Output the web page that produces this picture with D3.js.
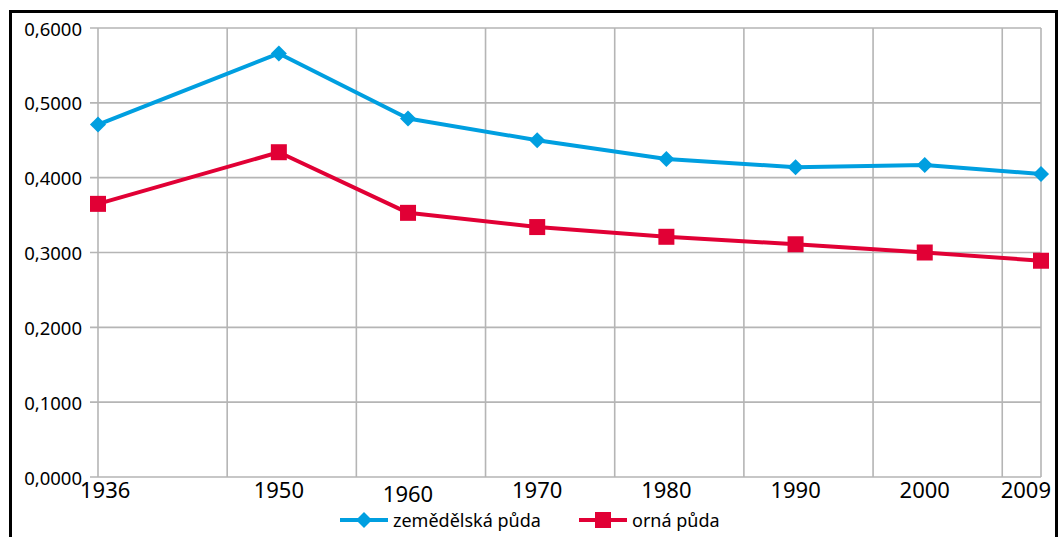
<!DOCTYPE html>
<html>
<head>
<meta charset="utf-8">
<script src="https://cdn.jsdelivr.net/npm/d3@7"></script>
<style>
  html, body { margin: 0; padding: 0; background: #ffffff; }
  svg { display: block; }
</style>
</head>
<body>
<div id="chart-container"></div>
<script>
// data
const years = [1936, 1950, 1960, 1970, 1980, 1990, 2000, 2009];
const zemedelska = [0.471, 0.566, 0.479, 0.450, 0.425, 0.414, 0.417, 0.405];
const orna = [0.365, 0.434, 0.353, 0.334, 0.321, 0.311, 0.300, 0.289];
const seriesNames = ["zemědělská půda", "orná půda"];
const yTicks = [0, 0.1, 0.2, 0.3, 0.4, 0.5, 0.6];
const gridYears = [1936, 1946, 1956, 1966, 1976, 1986, 1996, 2006];

const width = 1060;
const height = 537;
const margin = { top: 28, right: 19, bottom: 60, left: 98 };

const blue = "#009fe0";
const red = "#e10035";
const gridColor = "#b5b5b5";
const font = "'Noto Sans', 'Open Sans', sans-serif";

const svg = d3
  .select("#chart-container")
  .append("svg")
  .attr("width", width)
  .attr("height", height);

// cadre noir autour du graphique
svg
  .append("rect")
  .attr("x", 10.5)
  .attr("y", 11.5)
  .attr("width", 1046)
  .attr("height", 560)
  .attr("fill", "none")
  .attr("stroke", "#000")
  .attr("stroke-width", 3);

const x = d3
  .scaleLinear()
  .domain([years[0], years[years.length - 1]])
  .range([margin.left, width - margin.right]);

const y = d3
  .scaleLinear()
  .domain([0, 0.6])
  .range([height - margin.bottom, margin.top]);

const czFormat = d3.formatLocale({
  decimal: ",",
  thousands: " ",
  grouping: [3],
  currency: ["", " Kč"],
}).format(".4f");

// grille horizontale + ticks à gauche
svg
  .append("g")
  .selectAll("line")
  .data(yTicks)
  .enter()
  .append("line")
  .attr("x1", margin.left - 8)
  .attr("x2", x.range()[1])
  .attr("y1", (d) => y(d))
  .attr("y2", (d) => y(d))
  .attr("stroke", gridColor)
  .attr("stroke-width", 1.6);

// grille verticale
svg
  .append("g")
  .selectAll("line")
  .data(gridYears.concat([years[years.length - 1]]))
  .enter()
  .append("line")
  .attr("x1", (d) => x(d))
  .attr("x2", (d) => x(d))
  .attr("y1", y(0.6))
  .attr("y2", y(0))
  .attr("stroke", gridColor)
  .attr("stroke-width", 1.6);

// labels axe Y
svg
  .append("g")
  .selectAll("text")
  .data(yTicks)
  .enter()
  .append("text")
  .attr("x", margin.left - 16)
  .attr("y", (d) => y(d))
  .attr("text-anchor", "end")
  .attr("dominant-baseline", "central")
  .style("font-family", font)
  .style("font-size", "18.5px")
  .style("fill", "#000")
  .text((d) => czFormat(d));

// labels axe X (on garde les labels dans le cadre)
const xLabels = svg
  .append("g")
  .selectAll("text")
  .data(years)
  .enter()
  .append("text")
  .attr("x", (d) => x(d))
  .attr("y", (d) => (d === 1960 ? 502 : 498))
  .attr("text-anchor", "middle")
  .style("font-family", font)
  .style("font-size", "22px")
  .style("fill", "#000")
  .text((d) => d);

xLabels.each(function () {
  const box = this.getBBox();
  const cx = +d3.select(this).attr("x");
  let shift = 0;
  if (box.x < 80) shift = 80 - box.x;
  if (box.x + box.width > 1051) shift = 1051 - (box.x + box.width);
  d3.select(this).attr("x", cx + shift);
});

// lignes
const line = d3
  .line()
  .x((d) => x(d[0]))
  .y((d) => y(d[1]));

const diamond = d3.symbol().type(d3.symbolDiamond2).size(165);

function drawSeries(values, color, shape) {
  const pts = years.map((yr, i) => [yr, values[i]]);
  svg
    .append("path")
    .attr("d", line(pts))
    .attr("fill", "none")
    .attr("stroke", color)
    .attr("stroke-width", 4)
    .attr("stroke-linejoin", "round");

  const g = svg.append("g");
  if (shape === "diamond") {
    g.selectAll("path")
      .data(pts)
      .enter()
      .append("path")
      .attr("d", diamond)
      .attr("transform", (d) => `translate(${x(d[0])},${y(d[1])})`)
      .attr("fill", color);
  } else {
    g.selectAll("rect")
      .data(pts)
      .enter()
      .append("rect")
      .attr("x", (d) => x(d[0]) - 8)
      .attr("y", (d) => y(d[1]) - 8)
      .attr("width", 16)
      .attr("height", 16)
      .attr("fill", color);
  }
}

drawSeries(zemedelska, blue, "diamond");
drawSeries(orna, red, "square");

// légende
const legendY = 520;
const legend = [
  { name: seriesNames[0], color: blue, shape: "diamond", x: 340 },
  { name: seriesNames[1], color: red, shape: "square", x: 579 },
];

legend.forEach((item) => {
  const g = svg.append("g").attr("transform", `translate(${item.x},${legendY})`);
  g.append("line")
    .attr("x1", 0)
    .attr("x2", 48)
    .attr("y1", 0)
    .attr("y2", 0)
    .attr("stroke", item.color)
    .attr("stroke-width", 4);
  if (item.shape === "diamond") {
    g.append("path")
      .attr("d", diamond)
      .attr("transform", "translate(24,0)")
      .attr("fill", item.color);
  } else {
    g.append("rect")
      .attr("x", 16)
      .attr("y", -8)
      .attr("width", 16)
      .attr("height", 16)
      .attr("fill", item.color);
  }
  g.append("text")
    .attr("x", 53)
    .attr("y", 0)
    .attr("dominant-baseline", "central")
    .style("font-family", font)
    .style("font-size", "18px")
    .style("fill", "#000")
    .text(item.name);
});
</script>
</body>
</html>
